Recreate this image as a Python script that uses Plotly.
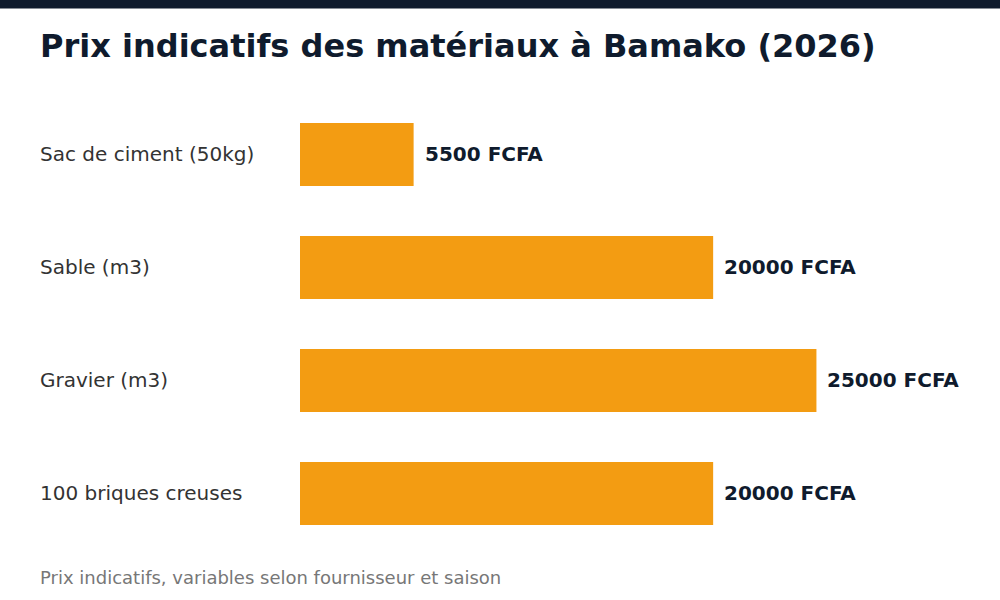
import plotly.graph_objects as go

categories = ["Sac de ciment (50kg)", "Sable (m3)", "Gravier (m3)", "100 briques creuses"]
prices = [5500, 20000, 25000, 20000]
value_labels = ["5500 FCFA", "20000 FCFA", "25000 FCFA", "20000 FCFA"]
title = "Prix indicatifs des matériaux à Bamako (2026)"
footer = "Prix indicatifs, variables selon fournisseur et saison"

W, H = 1000, 600
ML, MR, MT, MB = 300, 40, 98, 50
PW, PH = W - ML - MR, H - MT - MB

def px(x):
    return (x - ML) / PW

def py(y):
    return (H - MB - y) / PH

fig = go.Figure(go.Bar(
    x=prices, y=categories, orientation="h",
    marker=dict(color="#f39c12", line=dict(width=0)),
    hoverinfo="skip",
))

annotations = []
for c, v, lab in zip(categories, prices, value_labels):
    annotations.append(dict(x=v, y=c, xref="x", yref="y", text=f"<b>{lab}</b>",
                            showarrow=False, xanchor="left", yanchor="middle", xshift=9, yshift=1,
                            font=dict(family="DejaVu Sans", size=20, color="#0f1b2d")))
    annotations.append(dict(x=px(38), y=c, xref="paper", yref="y", text=c,
                            showarrow=False, xanchor="left", yanchor="middle", yshift=1,
                            font=dict(family="DejaVu Sans", size=20, color="#333333")))

annotations.append(dict(x=px(38), y=py(46), xref="paper", yref="paper", text=f"<b>{title}</b>",
                        showarrow=False, xanchor="left", yanchor="middle",
                        font=dict(family="DejaVu Sans", size=32, color="#0f1b2d")))
annotations.append(dict(x=px(38), y=py(577), xref="paper", yref="paper", text=footer,
                        showarrow=False, xanchor="left", yanchor="middle",
                        font=dict(family="DejaVu Sans", size=18, color="#777777")))

fig.update_layout(
    width=W, height=H,
    margin=dict(l=ML, r=MR, t=MT, b=MB, pad=0),
    paper_bgcolor="white", plot_bgcolor="white",
    showlegend=False,
    bargap=0.443,
    xaxis=dict(range=[0, 31950], visible=False, fixedrange=True),
    yaxis=dict(autorange="reversed", showticklabels=False, showgrid=False,
               zeroline=False, showline=False, ticks="", fixedrange=True),
    annotations=annotations,
    shapes=[dict(type="rect", xref="paper", yref="paper",
                 x0=px(0), x1=px(W), y0=py(8.5), y1=py(-2),
                 fillcolor="#0f1b2d", line=dict(width=0), layer="above")],
)

fig.write_html("out.html", config={"displayModeBar": False})
